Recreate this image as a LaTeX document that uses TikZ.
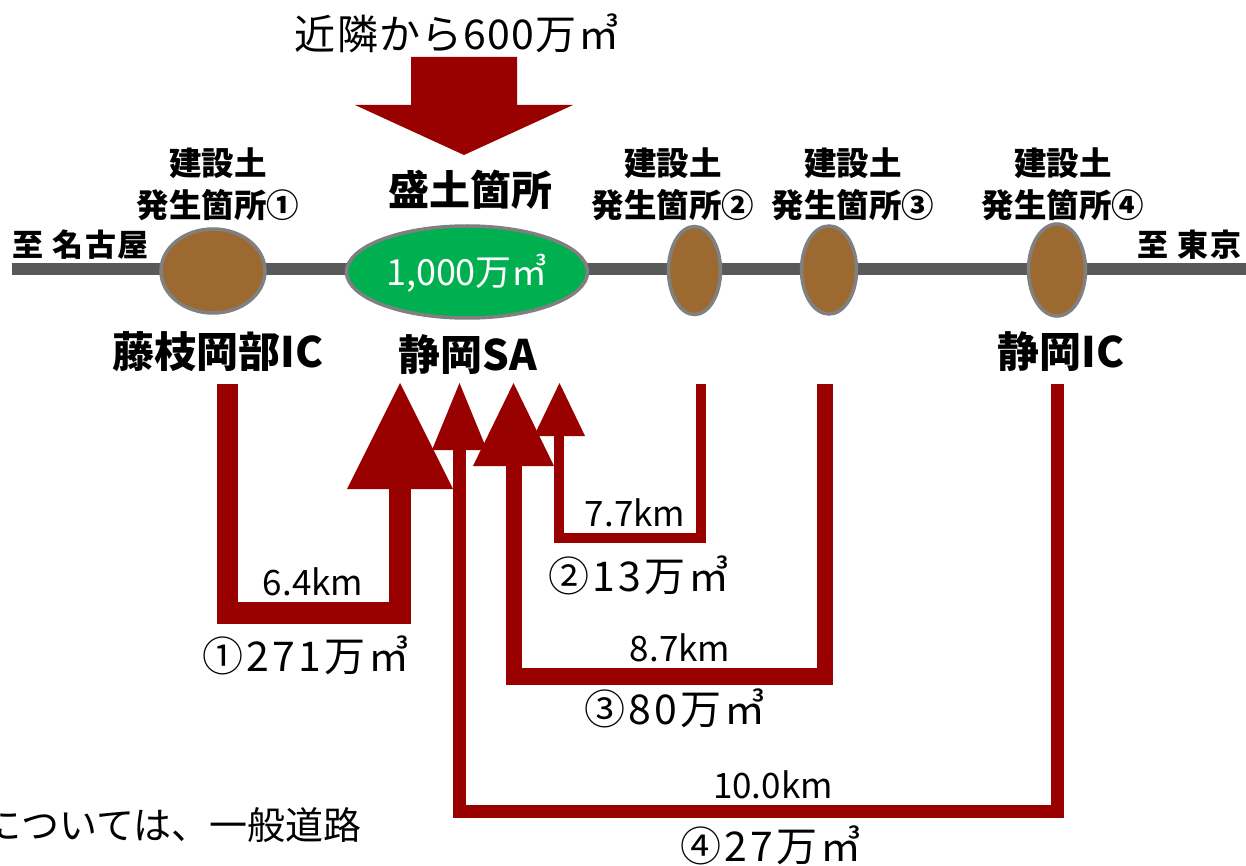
\documentclass[tikz,border=0pt]{standalone}
\usepackage{fontspec}
\setmainfont{Noto Sans CJK JP}
\usetikzlibrary{shapes.geometric}
\definecolor{dred}{HTML}{990000}
\definecolor{soil}{HTML}{9C6A30}
\definecolor{sagreen}{HTML}{00B050}
\definecolor{roadgray}{HTML}{595959}
\definecolor{rim}{HTML}{808080}
\begin{document}
\begin{tikzpicture}[x=1pt,y=-1pt,
  site/.style={ellipse, draw=rim, line width=3.5pt, fill=soil, inner sep=0},
  flow/.style={draw=dred, line join=miter, line cap=butt},
  headtri/.style={fill=dred},
  sitelbl/.style={font=\fontsize{32.5}{42}\selectfont\bfseries, align=center, inner sep=0},
  place/.style={font=\fontsize{42}{46}\selectfont\bfseries, inner sep=0},
  dir/.style={font=\fontsize{31}{34}\selectfont\bfseries\addfontfeature{LetterSpace=6}, inner sep=0},
  km/.style={font=\fontsize{35}{38}\selectfont, inner sep=0},
  vol/.style={font=\fontsize{41}{44}\selectfont\addfontfeature{LetterSpace=8}, inner sep=0}]
\useasboundingbox (0,0) rectangle (1246,866);
\clip (0,0) rectangle (1246,866);

% road
\coordinate (west) at (12,269);
\coordinate (east) at (1246,269);
\draw[roadgray, line width=12pt] (west) -- (east);

% sites
\node[site, minimum width=104pt, minimum height=84pt] (e1) at (213,271) {};
\node[ellipse, draw=rim, line width=3.5pt, fill=sagreen, inner sep=0,
      minimum width=241pt, minimum height=92pt] (sa) at (467,272) {};
\node[site, minimum width=52pt, minimum height=88pt] (e2) at (694.5,270.5) {};
\node[site, minimum width=55pt, minimum height=88pt] (e3) at (829,270) {};
\node[site, minimum width=57pt, minimum height=92pt] (e4) at (1057,270) {};
\node[font=\fontsize{36}{38}\selectfont, text=white, inner sep=0] (savol) at (467,273) {1,000万㎥};

% top labels
\node[font=\fontsize{41}{44}\selectfont\addfontfeature{LetterSpace=3}, inner sep=0] (near) at (457,33) {近隣から600万㎥};
\node[sitelbl] (l1) at (218,184) {建設土\\発生箇所①};
\node[sitelbl] (l2) at (673,184) {建設土\\発生箇所②};
\node[sitelbl] (l3) at (853,184) {建設土\\発生箇所③};
\node[sitelbl] (l4) at (1063,184) {建設土\\発生箇所④};
\node[font=\fontsize{41}{44}\selectfont\bfseries, inner sep=0] (mori) at (470,190) {盛土箇所};
\node[dir, anchor=west] (nagoya) at (12,245) {至\hspace{9pt}名古屋};
\node[dir, anchor=east] (tokyo) at (1242,245) {至\hspace{9pt}東京};
\node[place] (fujieda) at (218,352) {藤枝岡部IC};
\node[place] (shizsa) at (468,355) {静岡SA};
\node[place] (shizic) at (1061,352) {静岡IC};

% big inflow arrow
\coordinate (bigtop) at (464,57);
\coordinate (bigtip) at (464,155);
\fill[dred] (411,57) -- (517,57) -- (517,105) -- (573,105) -- (bigtip) -- (355,105) -- (411,105) -- cycle;

% route 4 (10.0km)
\coordinate (s4) at (1057.5,384);
\coordinate (c4) at (459.5,811.5);
\coordinate (h4) at (459.5,450);
\coordinate (t4) at (459.5,383);
\draw[flow, line width=13pt] (s4) |- (c4) -- (h4);
\fill[headtri] (432,450) -- (t4) -- (487,450) -- cycle;

% route 3 (8.7km)
\coordinate (s3) at (825,384);
\coordinate (c3) at (514,676.5);
\coordinate (h3) at (514,466);
\coordinate (t3) at (513.5,383);
\draw[flow, line width=16.5pt] (s3) |- (c3) -- (h3);
\fill[headtri] (473,466) -- (t3) -- (554,466) -- cycle;

% route 2 (7.7km)
\coordinate (s2) at (701,384);
\coordinate (c2) at (559,538);
\coordinate (h2) at (559,436);
\coordinate (t2) at (559.5,383);
\draw[flow, line width=10pt] (s2) |- (c2) -- (h2);
\fill[headtri] (534,436) -- (t2) -- (585,436) -- cycle;

% route 1 (6.4km)
\coordinate (s1) at (227.5,384);
\coordinate (c1) at (400,613);
\coordinate (h1) at (400,489);
\coordinate (t1) at (400,383);
\draw[flow, line width=21.5pt] (s1) |- (c1) -- (h1);
\fill[headtri] (347,489) -- (t1) -- (453,489) -- cycle;

% route labels
\node[km] (k1) at (313,582) {6.4km};
\node[km] (k2) at (635,513) {7.7km};
\node[km] (k3) at (680,648) {8.7km};
\node[km] (k4) at (773,785) {10.0km};
\node[vol] (v1) at (306,655) {①271万㎥};
\node[vol] (v2) at (639,575) {②13万㎥};
\node[vol] (v3) at (675,708) {③80万㎥};
\node[vol] (v4) at (771,845) {④27万㎥};

% cut-off note (cut at the left edge, as in the reference)
\node[font=\fontsize{38}{42}\selectfont, inner sep=0, anchor=east] (note) at (362,825) {については、一般道路};
\end{tikzpicture}
\end{document}
